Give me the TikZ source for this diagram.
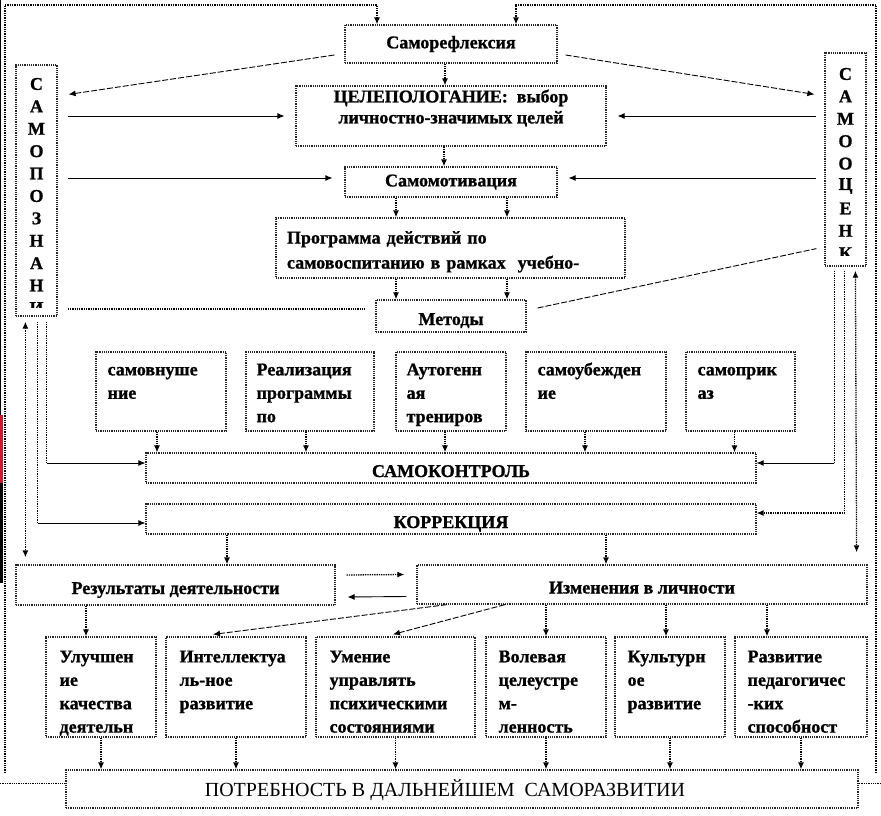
\documentclass[tikz,border=0pt]{standalone}
\usepackage{fontspec}
\setmainfont{Liberation Serif}[BoldFeatures={FakeBold=1}]
\usetikzlibrary{arrows.meta}
\definecolor{edgered}{RGB}{214,22,48}
\hyphenpenalty=10000
\exhyphenpenalty=10000
\tikzset{
  >={Latex[length=7pt,width=6pt]},
  box/.style={draw=black!85, densely dotted, line width=1.2pt, inner sep=0pt,
    font=\bfseries\fontsize{18}{22.5}\selectfont},
  lowtext/.style={text height=20pt, text depth=2pt},
  txt/.style={inner sep=0pt, align=left, text width=150pt,
    font=\bfseries\fontsize{18}{23.4}\selectfont},
  letter/.style={inner sep=0pt, font=\bfseries\fontsize{18}{18}\selectfont},
  dotline/.style={draw=black, densely dotted, line width=1.3pt},
  solidline/.style={draw=black, line width=0.9pt},
  dashline/.style={draw=black, dash pattern=on 6pt off 2pt, line width=0.9pt}
}

\begin{document}
\begin{tikzpicture}[x=1pt,y=-1pt]
  \useasboundingbox (0,0) rectangle (881,816);
  % strip at the left edge
  \fill[black] (0,0) rectangle (1.2,415);
  \fill[edgered] (0,415) rectangle (3,483);
  \fill[black] (0,483) rectangle (3,583);
  %
  \node[box, minimum width=212pt, minimum height=38pt] (refl) at (451,44) {Саморефлексия};
  \node[box, minimum width=310pt, minimum height=60pt, align=center, text height=18pt,
    font=\bfseries\fontsize{18}{21}\selectfont] (goal) at (451,116)
    {ЦЕЛЕПОЛОГАНИЕ:~ выбор\\личностно-значимых целей};
  \node[box, minimum width=212pt, minimum height=30pt] (motiv) at (451,182) {Самомотивация};
  \node[box, text width=327pt, inner xsep=11pt, minimum height=60pt, align=left, text height=20pt,
    font=\bfseries\fontsize{18}{25}\selectfont] (prog) at (450.5,248)
    {Программа действий по\\самовоспитанию в рамках~ учебно-};
  \node[box, lowtext, minimum width=150pt, minimum height=32pt] (meth) at (451,316) {Методы};
  %
  \node[box, minimum width=41pt, minimum height=251pt] (selfk) at (36.5,190.5) {};
  \node[box, minimum width=41pt, minimum height=213pt] (selfe) at (845.5,159.5) {};
  \begin{scope}
    \clip (selfk.north west) rectangle ([yshift=9pt]selfk.south east);
    \foreach \l [count=\i] in {С,А,М,О,П,О,З,Н,А,Н,И}
      \node[letter] (sk\i) at (36.5,61.6+22.4*\i) {\l};
  \end{scope}
  \begin{scope}
    \clip (selfe.north west) rectangle ([yshift=11pt]selfe.south east);
    \foreach \l [count=\i] in {С,А,М,О,О,Ц,Е,Н,К}
      \node[letter] (se\i) at (845.5,51.6+22.4*\i) {\l};
  \end{scope}
  %
  \node[box, minimum width=130pt, minimum height=79pt] (m1) at (161,391.5) {};
  \node[box, minimum width=128pt, minimum height=79pt] (m2) at (310,391.5) {};
  \node[box, minimum width=110pt, minimum height=79pt] (m3) at (451,391.5) {};
  \node[box, minimum width=140pt, minimum height=79pt] (m4) at (596,391.5) {};
  \node[box, minimum width=109pt, minimum height=79pt] (m5) at (740.5,391.5) {};
  \node[txt, anchor=base west] (m1t) at ([shift={(12pt,-24pt)}]m1.north west) {самовнуше\\ние};
  \node[txt, anchor=base west] (m2t) at ([shift={(11pt,-24pt)}]m2.north west) {Реализация\\программы\\по};
  \node[txt, anchor=base west] (m3t) at ([shift={(11pt,-24pt)}]m3.north west) {Аутогенн\\ая\\трениров};
  \node[txt, anchor=base west] (m4t) at ([shift={(12pt,-24pt)}]m4.north west) {самоубежден\\ие};
  \node[txt, anchor=base west] (m5t) at ([shift={(12pt,-24pt)}]m5.north west) {самоприк\\аз};
  %
  \node[box, lowtext, minimum width=610pt, minimum height=30pt] (ctrl) at (451,468) {САМОКОНТРОЛЬ};
  \node[box, lowtext, minimum width=610pt, minimum height=30pt] (corr) at (451,519) {КОРРЕКЦИЯ};
  \node[box, lowtext, minimum width=319pt, minimum height=40pt] (res) at (175.5,585) {Результаты деятельности};
  \node[box, lowtext, minimum width=450pt, minimum height=39pt] (chg) at (642,584.5) {Изменения в личности};
  %
  \node[box, minimum width=110pt, minimum height=100pt] (b1) at (101,687) {};
  \node[box, minimum width=140pt, minimum height=100pt] (b2) at (236,687) {};
  \node[box, minimum width=159pt, minimum height=100pt] (b3) at (395.5,687) {};
  \node[box, minimum width=120pt, minimum height=100pt] (b4) at (546,687) {};
  \node[box, minimum width=110pt, minimum height=100pt] (b5) at (670,687) {};
  \node[box, minimum width=132pt, minimum height=100pt] (b6) at (801,687) {};
  \node[txt, anchor=base west] (b1t) at ([shift={(14pt,-26pt)}]b1.north west) {Улучшен\\ие\\качества\\деятельн};
  \node[txt, anchor=base west] (b2t) at ([shift={(14pt,-26pt)}]b2.north west) {Интеллектуа\\ль-ное\\развитие};
  \node[txt, anchor=base west] (b3t) at ([shift={(14pt,-26pt)}]b3.north west) {Умение\\управлять\\психическими\\состояниями};
  \node[txt, anchor=base west] (b4t) at ([shift={(13pt,-26pt)}]b4.north west) {Волевая\\целеустре\\м-\\ленность};
  \node[txt, anchor=base west] (b5t) at ([shift={(13pt,-26pt)}]b5.north west) {Культурн\\ое\\развитие};
  \node[txt, anchor=base west] (b6t) at ([shift={(13pt,-26pt)}]b6.north west) {Развитие\\педагогичес\\-ких\\способност};
  %
  \node[box, minimum width=792pt, minimum height=38pt] (need) at (462,789) {};
  \node[inner sep=0pt, font=\fontsize{20}{20}\selectfont] (needt) at (445,790)
    {ПОТРЕБНОСТЬ В ДАЛЬНЕЙШЕМ~ САМОРАЗВИТИИ};
  %
  % frame
  \coordinate (frl) at (5,773);
  \coordinate (frr) at (876,773);
  \coordinate (bl) at (0,783.5);
  \coordinate (br) at (881,783.5);
  \draw[dotline,->] (frl) |- ([xshift=-74pt,yshift=19.5pt]refl.north) -- ([xshift=-74pt]refl.north);
  \draw[dotline,->] (frr) |- ([xshift=65pt,yshift=19.5pt]refl.north) -- ([xshift=65pt]refl.north);
  \draw[dotline] (bl) -- (bl -| need.west);
  \draw[dotline] (br) -- (br -| need.east);
  %
  \draw[dashline,->] ([shift={(-10pt,-11pt)}]refl.west) -- ([shift={(11pt,-30pt)}]selfk.north east);
  \draw[dashline,->] ([shift={(8pt,-11pt)}]refl.east) -- ([shift={(-10pt,-42pt)}]selfe.north west);
  \draw[solidline,->] ([xshift=10pt]selfk.east |- goal.west) -- ([xshift=-11pt]goal.west);
  \draw[solidline,->] ([xshift=-8pt]selfe.west |- goal.east) -- ([xshift=11pt]goal.east);
  \draw[solidline,->] ([xshift=10pt,yshift=4pt]selfk.east |- motiv.west) -- ([xshift=-12pt,yshift=4pt]motiv.west);
  \draw[solidline,->] ([xshift=-8pt,yshift=4pt]selfe.west |- motiv.east) -- ([xshift=11pt,yshift=4pt]motiv.east);
  \draw[dotline] ([xshift=10pt,yshift=7pt]selfk.east |- meth.west) -- ([xshift=-11pt,yshift=7pt]meth.west);
  \draw[dashline] ([shift={(11pt,8pt)}]meth.east) -- ([shift={(-8pt,18pt)}]selfe.south west);
  %
  \draw[dotline,->] ([xshift=-6pt]refl.south) -- ([xshift=-6pt]goal.north);
  \draw[dotline,->] ([xshift=-7pt]goal.south) -- ([xshift=-7pt]motiv.north);
  \draw[dotline,->] ([xshift=-55pt]motiv.south) -- ([xshift=-55pt]motiv.south |- prog.north);
  \draw[dotline,->] ([xshift=56pt]motiv.south) -- ([xshift=56pt]motiv.south |- prog.north);
  \draw[dotline,->] ([xshift=-55pt]meth.north |- prog.south) -- ([xshift=-55pt]meth.north);
  \draw[dotline,->] ([xshift=56pt]meth.north |- prog.south) -- ([xshift=56pt]meth.north);
  \foreach \n/\s in {m1/-4,m2/-4,m3/-6,m4/-11,m5/-6}
    \draw[dotline,->] ([xshift=\s pt]\n.south) -- ([xshift=\s pt]\n.south |- ctrl.north);
  %
  % lines below the two side columns
  \coordinate (lk1) at ([shift={(-11pt,-5pt)}]selfk.south east);
  \coordinate (lk2) at ([shift={(-20pt,-5pt)}]selfk.south east);
  \draw[dotline] (lk1) -- ([yshift=5pt]lk1 |- ctrl.west);
  \draw[solidline,->] ([yshift=5pt]lk1 |- ctrl.west) -- ([yshift=5pt]ctrl.west);
  \draw[dotline] (lk2) -- ([yshift=-4pt]lk2 |- corr.west);
  \draw[solidline,->] ([yshift=-4pt]lk2 |- corr.west) -- ([yshift=-4pt]corr.west);
  \draw[dotline,<->] ([shift={(10pt,-5pt)}]selfk.south west) -- ([shift={(10pt,7pt)}]res.north west);
  \coordinate (re1) at ([shift={(10pt,-4pt)}]selfe.south west);
  \coordinate (re2) at ([shift={(20pt,-4pt)}]selfe.south west);
  \draw[dotline] (re1) -- ([yshift=5pt]re1 |- ctrl.east);
  \draw[solidline,->] ([yshift=5pt]re1 |- ctrl.east) -- ([yshift=5pt]ctrl.east);
  \draw[dotline,->] (re2) |- ([yshift=6pt]corr.east);
  \draw[dotline,<->] ([shift={(31pt,-4pt)}]selfe.south west) -- ([shift={(-11pt,12pt)}]chg.north east);
  %
  \draw[dotline,->] ([xshift=-224pt]corr.south) -- ([xshift=-224pt]corr.south |- res.north);
  \draw[dotline,->] ([xshift=155pt]corr.south) -- ([xshift=155pt]corr.south |- chg.north);
  \draw[dotline,->] ([shift={(11pt,10pt)}]res.east) -- ([shift={(-12pt,10pt)}]chg.west);
  \draw[solidline,->] ([shift={(-10pt,-12pt)}]chg.west) -- ([shift={(12pt,-12pt)}]res.east);
  %
  \draw[dotline,->] ([xshift=-89.5pt]res.south) -- ([xshift=-89.5pt]res.south |- b1.north);
  \draw[dashline,->] ([xshift=-195pt]chg.south) -- ([shift={(-23pt,2pt)}]b2.north);
  \draw[dashline,->] ([xshift=-137pt]chg.south) -- ([shift={(-2.5pt,2pt)}]b3.north);
  \draw[dotline,->] (b4.north |- chg.south) -- (b4.north);
  \draw[dotline,->] ([xshift=-4pt]b5.north |- chg.south) -- ([xshift=-4pt]b5.north);
  \draw[dotline,->] ([xshift=-34pt]b6.north |- chg.south) -- ([xshift=-34pt]b6.north);
  \foreach \n in {b1,b2,b3,b4,b5,b6}
    \draw[dotline,->] (\n.south) -- (\n.south |- need.north);
\end{tikzpicture}
\end{document}
